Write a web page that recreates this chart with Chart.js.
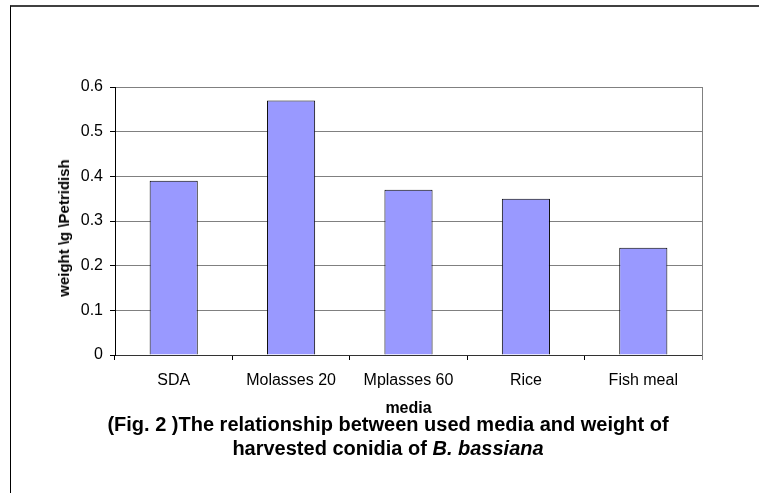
<!DOCTYPE html>
<html>
<head>
<meta charset="utf-8">
<script src="https://cdn.jsdelivr.net/npm/chart.js@4/dist/chart.umd.min.js"></script>
<style>
  html, body { margin: 0; padding: 0; background: #fff; }
  #wrap { position: relative; width: 759px; height: 493px; overflow: hidden; }
  #frame { position: absolute; left: 10px; top: 5px; width: 760px; height: 500px;
           border-top: 2px solid #404040; border-left: 1px solid #000; box-sizing: border-box; }
  canvas { position: absolute; left: 0; top: 0; }
  #ytitle { position: absolute; left: 64px; top: 228px; white-space: nowrap;
            transform: translate(-50%, -50%) rotate(-90deg);
            font: bold 15px "Liberation Sans", Arial, sans-serif; color: #000; line-height: 18px; }
  #caption { position: absolute; left: 0; top: 413px; width: 776px; text-align: center;
             font: bold 20px "Liberation Sans", Arial, sans-serif; line-height: 23.5px; color: #000; }
</style>
</head>
<body>
<div id="wrap">
  <div id="frame"></div>
  <canvas id="c" width="759" height="493"></canvas>
  <div id="ytitle">weight \g \Petridish</div>
  <div id="caption">(Fig. 2 )The relationship between used media and weight of<br>harvested conidia of <i>B. bassiana</i></div>
</div>
<script>
const categories = ["SDA", "Molasses 20", "Mplasses 60", "Rice", "Fish meal"];
const weights = [0.39, 0.57, 0.37, 0.35, 0.24];
const yTicks = [0, 0.1, 0.2, 0.3, 0.4, 0.5, 0.6];

const FONT = '"Liberation Sans", Arial, sans-serif';

// outline the right edge of the plot area
const plotEdge = {
  id: 'plotEdge',
  afterDraw(chart) {
    const { ctx, chartArea: a } = chart;
    ctx.save();
    ctx.strokeStyle = '#808080';
    ctx.lineWidth = 1;
    ctx.beginPath();
    ctx.moveTo(Math.round(a.right) + 0.5, a.top);
    ctx.lineTo(Math.round(a.right) + 0.5, a.bottom + 5);
    ctx.stroke();
    ctx.restore();
  }
};

new Chart(document.getElementById('c'), {
  type: 'bar',
  data: {
    labels: categories,
    datasets: [{
      data: weights,
      backgroundColor: '#9999ff',
      borderColor: '#000',
      borderWidth: 1,
      categoryPercentage: 1,
      barPercentage: 0.41
    }]
  },
  options: {
    responsive: false,
    animation: false,
    layout: { padding: { left: 55, top: 87, right: 57, bottom: 75 } },
    plugins: { legend: { display: false }, tooltip: { enabled: false } },
    scales: {
      x: {
        grid: { offset: true, drawOnChartArea: false, drawTicks: true, tickLength: 5, color: '#000' },
        border: { color: '#333', width: 1 },
        ticks: { color: '#000', font: { family: FONT, size: 16 }, padding: 11, maxRotation: 0 },
        title: { display: true, text: 'media', color: '#000', font: { family: FONT, size: 16, weight: 'bold' }, padding: { top: 0, bottom: 0 } },
        afterFit(s) { s.height = 63; }
      },
      y: {
        min: 0, max: 0.6,
        afterBuildTicks(s) { s.ticks = yTicks.map(v => ({ value: v })); },
        grid: { color: '#808080', tickColor: '#000', tickLength: 5, drawTicks: true },
        border: { color: '#000', width: 1 },
        ticks: { color: '#000', font: { family: FONT, size: 16 }, padding: 7,
                 callback: v => String(v) },
        afterFit(s) { s.width = 60; }
      }
    }
  },
  plugins: [plotEdge]
});
</script>
</body>
</html>
